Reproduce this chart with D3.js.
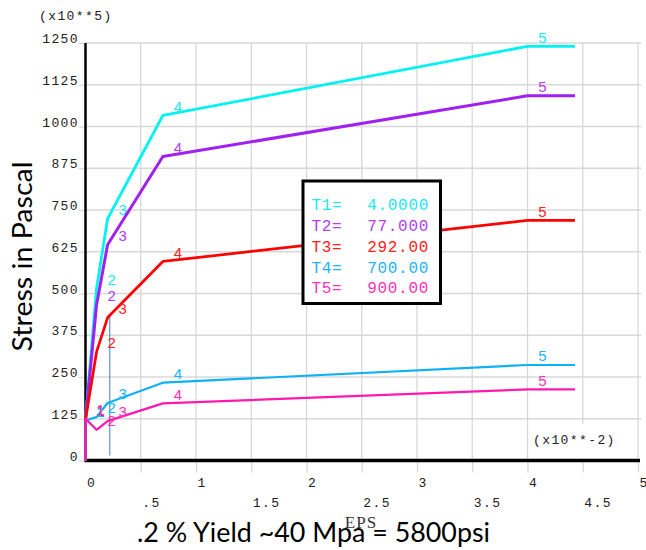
<!DOCTYPE html>
<html><head><meta charset="utf-8">
<script src="https://cdn.jsdelivr.net/npm/d3@7"></script>
<style>body{margin:0;background:#fff;overflow:hidden}</style>
</head><body><svg id="c" width="646" height="550"></svg>
<script>
// ---- data ----
const strain = [0, 0, 0.1, 0.2, 0.7, 4.0, 4.43];
const pointLabels = ["", "1", "2", "3", "4", "5", ""];
const seriesNames = ["T1", "T2", "T3", "T4", "T5"];
const temperatures = ["4.0000", "77.000", "292.00", "700.00", "900.00"];
const stressT1 = [0, 125, 515, 724, 1033, 1240, 1240];
const stressT2 = [0, 120, 466, 646, 910, 1092, 1092];
const stressT3 = [0, 122, 325, 428, 596, 719, 719];
const stressT4 = [0, 120, 130, 172, 233, 286, 286];
const stressT5 = [0, 125, 92, 118, 171, 213, 213];
const xTicks = [0, 0.5, 1, 1.5, 2, 2.5, 3, 3.5, 4, 4.5, 5];
const xTickLabels = ["0", ".5", "1", "1.5", "2", "2.5", "3", "3.5", "4", "4.5", "5"];
const yTicks = [0, 125, 250, 375, 500, 625, 750, 875, 1000, 1125, 1250];
const yTickLabels = ["0", "125", "250", "375", "500", "625", "750", "875", "1000", "1125", "1250"];
const offsetStrain = 0.22;
const offsetStress = [15, 433];

// ---- styles ----
const colors = ["#00f2f2", "#a020f0", "#ff0000", "#10b0f8", "#ff18b0"];
const labelColors = ["#20e8f0", "#b040f0", "#ff2020", "#20b4f8", "#ff30b8"];
const widths = [2.8, 3, 2.7, 2.2, 2.2];
const allSeries = [stressT1, stressT2, stressT3, stressT4, stressT5];

const svg = d3.select("#c");
const x = d3.scaleLinear().domain([0, 5]).range([85.5, 638]);
const y = d3.scaleLinear().domain([0, 1250]).range([460.5, 43]);
const grid = "#d8d8d8";
const axisFont = "'Liberation Mono', monospace";

// gridlines
svg.append("g").selectAll("line").data(yTicks.filter(d => d > 0)).join("line")
  .attr("x1", x(0)).attr("x2", 641).attr("y1", d => y(d)).attr("y2", d => y(d))
  .attr("stroke", grid).attr("stroke-width", 1.3);
svg.append("g").selectAll("line").data(xTicks.filter(d => d > 0)).join("line")
  .attr("x1", d => x(d)).attr("x2", d => x(d)).attr("y1", y(1250)).attr("y2", y(0))
  .attr("stroke", grid).attr("stroke-width", 1.3);

// x axis
const gx = svg.append("g").attr("transform", `translate(0,${y(0)})`)
  .call(d3.axisBottom(x).tickValues(xTicks).tickFormat((d, i) => xTickLabels[i]).tickSize(12).tickPadding(0));
gx.select(".domain").remove();
gx.selectAll(".tick line").attr("stroke", grid).attr("stroke-width", 1.3)
  .attr("display", d => d === 0 ? "none" : null);
gx.selectAll(".tick text")
  .attr("text-anchor", "start").attr("x", 1)
  .attr("y", (d, i) => i % 2 ? 41.5 : 21.5).attr("dy", "0.35em")
  .attr("fill", "#222").style("font-family", axisFont).style("font-size", "13px")
  .style("letter-spacing", "1.4px");

// y axis
const gy = svg.append("g").attr("transform", `translate(${x(0)},0)`)
  .call(d3.axisLeft(y).tickValues(yTicks).tickFormat((d, i) => yTickLabels[i]).tickSize(7).tickPadding(0));
gy.select(".domain").remove();
gy.selectAll(".tick line").attr("stroke", grid).attr("stroke-width", 1.3);
gy.selectAll(".tick text")
  .attr("text-anchor", "end").attr("x", -6.5).attr("y", -0.5).attr("dy", 0)
  .attr("fill", "#222").style("font-family", axisFont).style("font-size", "13px")
  .style("letter-spacing", "1.4px");

// axis lines
svg.append("line").attr("x1", x(0) - 1).attr("x2", 640).attr("y1", y(0)).attr("y2", y(0))
  .attr("stroke", "#000").attr("stroke-width", 3.5);
svg.append("line").attr("x1", x(0)).attr("x2", x(0)).attr("y1", y(1250)).attr("y2", y(0))
  .attr("stroke", "#000").attr("stroke-width", 2.5);

// unit labels
svg.append("text").attr("x", 39).attr("y", 15).attr("dy", "0.35em")
  .style("font-family", axisFont).style("font-size", "13px").style("letter-spacing", "1.4px")
  .attr("fill", "#222").text("(x10**5)");
svg.append("rect").attr("x", 531).attr("y", 424).attr("width", 88).attr("height", 34).attr("fill", "#fff");
svg.append("text").attr("x", 533).attr("y", 439).attr("dy", "0.35em")
  .style("font-family", axisFont).style("font-size", "13px").style("letter-spacing", "1.4px")
  .attr("fill", "#222").text("(x10**-2)");

// offset marker line
svg.append("line").attr("x1", x(offsetStrain)).attr("x2", x(offsetStrain))
  .attr("y1", y(offsetStress[0])).attr("y2", y(offsetStress[1]))
  .attr("stroke", "#3f7cc4").attr("stroke-width", 1);

// curves
const line = d3.line().x((d, i) => x(strain[i])).y(d => y(d));
allSeries.forEach((s, k) => {
  svg.append("path").attr("d", line(s)).attr("fill", "none")
    .attr("stroke", colors[k]).attr("stroke-width", widths[k]).attr("stroke-linejoin", "round");
  svg.append("g").selectAll("text").data(s).join("text")
    .attr("x", (d, i) => x(strain[i]) + 15).attr("y", d => y(d) - 9)
    .attr("text-anchor", "middle").attr("dy", "0.35em")
    .style("font-family", "'Liberation Sans Narrow','Liberation Sans',sans-serif")
    .style("font-size", "15px").attr("fill", labelColors[k])
    .text((d, i) => pointLabels[i]);
});

// legend
svg.append("rect").attr("x", 303).attr("y", 181).attr("width", 137.5).attr("height", 122.5)
  .attr("fill", "#fff").attr("stroke", "#000").attr("stroke-width", 3);
seriesNames.forEach((n, k) => {
  const ty = 204.5 + k * 20.8;
  svg.append("text").attr("x", 311.5).attr("y", ty).attr("dy", "0.35em")
    .style("font-family", axisFont).style("font-size", "16px").style("letter-spacing", "0.7px")
    .attr("fill", labelColors[k]).text(n + "=");
  svg.append("text").attr("x", 429).attr("y", ty).attr("dy", "0.35em").attr("text-anchor", "end")
    .style("font-family", axisFont).style("font-size", "16px").style("letter-spacing", "0.7px")
    .attr("fill", labelColors[k]).text(temperatures[k]);
});

// titles
svg.append("text").attr("x", 361).attr("y", 522).attr("dy", "0.35em").attr("text-anchor", "middle")
  .style("font-family", "'Liberation Serif',serif").style("font-size", "17px").style("letter-spacing", "1px")
  .attr("fill", "#333").text("EPS");
svg.append("text").attr("x", 137).attr("y", 541.5)
  .attr("textLength", 353).attr("lengthAdjust", "spacingAndGlyphs")
  .style("font-family", "Lato, sans-serif").style("font-size", "26px")
  .attr("fill", "#000").text(".2 % Yield ~40 Mpa = 5800psi");
svg.append("text").attr("transform", "translate(31.5,351.5) rotate(-90)")
  .attr("textLength", 190).attr("lengthAdjust", "spacingAndGlyphs")
  .style("font-family", "Lato, sans-serif").style("font-size", "26px")
  .attr("fill", "#000").text("Stress in Pascal");
</script></body></html>
